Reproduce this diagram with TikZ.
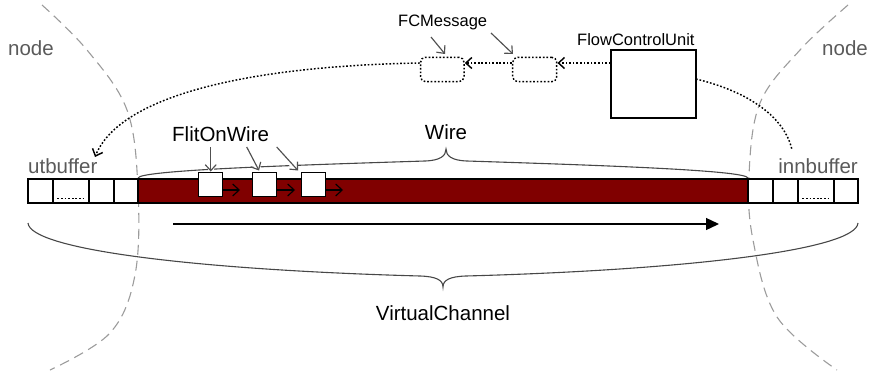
\documentclass[tikz,border=0pt]{standalone}
\usepackage{fontspec}
\setmainfont{Liberation Sans}
\usetikzlibrary{arrows.meta,calc}
\definecolor{wirered}{HTML}{800000}
\definecolor{lbl}{HTML}{5A5A5A}
\definecolor{arcgrey}{HTML}{9C9C9C}
\definecolor{brc}{HTML}{474747}
\definecolor{arrgrey}{HTML}{505050}
\begin{document}
\begin{tikzpicture}[x=1pt,y=-1pt,
  cell/.style={draw=black,fill=white,line width=1.2pt,inner sep=0pt,minimum height=24pt},
  big/.style={font=\fontsize{20.5}{24}\selectfont,inner sep=0pt},
  small/.style={font=\fontsize{16.5}{19}\selectfont,inner sep=0pt},
  grey/.style={text=lbl},
  dotline/.style={line width=1.45pt,dash pattern=on 1.7pt off 1.9pt},
  fcmsg/.style={draw,dotline,rounded corners=5pt,minimum height=24.4pt,inner sep=0pt},
  openhead/.style={-{Straight Barb[length=6pt,width=11pt]}},
  greyarrow/.style={draw=arrgrey,line width=1.15pt,openhead,preaction={draw=white,line width=6pt,-}},
  brace/.style={draw=brc,line width=1.1pt},
  arcline/.style={draw=arcgrey,line width=1.1pt,dash pattern=on 10pt off 6pt},
  flitarrow/.style={line width=1.15pt,-{Straight Barb[length=6.5pt,width=12pt]}}]
\useasboundingbox (0,0) rectangle (873,372);

% node boundaries (dashed arcs)
\draw[arcline] plot[smooth,tension=0.6] coordinates {(42,5) (87,50) (127,110) (138,190) (135,275) (110,333) (50,370)};
\draw[arcline] plot[smooth,tension=0.6] coordinates {(848,5) (800,50) (760,103) (749,175) (753,240) (777,317) (837,370)};

% labels
\node[big,grey,anchor=base west] (nodeL) at (8,55) {node};
\node[big,grey,anchor=base west] (nodeR) at (822,55) {node};
\node[small,anchor=base west] (fcmtxt) at (398,27) {FCMessage};
\node[small,anchor=base west] (fcutxt) at (577,45) {FlowControlUnit};
\node[big,anchor=base] (wiretxt) at (446,139) {Wire};
\node[big,anchor=base west] (flittxt) at (172,141.5) {FlitOnWire};
\node[big,grey,anchor=base west] (utb) at (28,173) {utbuffer};
\node[big,grey,anchor=base east] (inb) at (858,173) {innbuffer};
\node[big,anchor=base] (vc) at (443,320) {VirtualChannel};

% braces
\draw[brace] (138,178) .. controls (140,170) and (300,165) .. (425,161)
  .. controls (440,160.5) and (446,156) .. (446,149)
  .. controls (446,156) and (452,160.5) .. (467,161)
  .. controls (590,165) and (746,170) .. (748,178);
\draw[brace] (28,223) .. controls (30,250) and (200,270) .. (420,276)
  .. controls (436,276.5) and (443,280) .. (443,287)
  .. controls (443,280) and (450,276.5) .. (466,276)
  .. controls (686,270) and (856,250) .. (858,223);

% FlitOnWire pointers
\coordinate (p1s) at (210.7,147);
\coordinate (p1e) at (210.7,171.5);
\coordinate (p2s) at (246.7,147);
\coordinate (p2e) at (259,170.5);
\coordinate (p3s) at (276.7,147);
\coordinate (p3e) at (298,170.5);
\draw[greyarrow] (p1s) -- (p1e);
\draw[greyarrow] (p2s) -- (p2e);
\draw[greyarrow] (p3s) -- (p3e);

% FCMessage pointers
\coordinate (m1s) at (431,37);
\coordinate (m1e) at (445,54);
\coordinate (m2s) at (491,33);
\coordinate (m2e) at (513,54);
\draw[greyarrow] (m1s) -- (m1e);
\draw[greyarrow] (m2s) -- (m2e);

% wire and buffers
\node[draw=black,fill=wirered,line width=1.2pt,inner sep=0pt,minimum width=610pt,minimum height=24pt] (wire) at (443,191) {};
\node[cell,minimum width=25pt] (l1) at (40.5,191) {};
\node[cell,minimum width=36pt] (l2) at (71,191) {};
\node[cell,minimum width=25pt] (l3) at (101.5,191) {};
\node[cell,minimum width=24pt] (l4) at (126,191) {};
\node[cell,minimum width=25pt] (r1) at (760.5,191) {};
\node[cell,minimum width=25pt] (r2) at (785.5,191) {};
\node[cell,minimum width=36pt] (r3) at (816,191) {};
\node[cell,minimum width=24pt] (r4) at (846,191) {};
\draw[dotline,line width=1.1pt] ($(l2.south west)+(5,-5.5)$) -- ($(l2.south east)+(-4,-5.5)$);
\draw[dotline,line width=1.1pt] ($(r3.south west)+(5,-5.5)$) -- ($(r3.south east)+(-4,-5.5)$);

% flits
\node[cell,minimum width=24pt] (f1) at (210.3,184.7) {};
\node[cell,minimum width=24pt] (f2) at (264.7,184.7) {};
\node[cell,minimum width=24pt] (f3) at (313.2,184.7) {};
\coordinate (f1t) at (240,190);
\coordinate (f2t) at (295,190);
\coordinate (f3t) at (343,190);
\draw[flitarrow] (f1.east |- f1t) -- (f1t);
\draw[flitarrow] (f2.east |- f2t) -- (f2t);
\draw[flitarrow] (f3.east |- f3t) -- (f3t);

% direction arrow
\coordinate (dirs) at (173,224);
\coordinate (dire) at (719,224);
\draw[line width=1.3pt,-{Triangle[length=13pt,width=12pt]}] (dirs) -- (dire);

% flow control
\node[draw,line width=1.2pt,minimum width=85pt,minimum height=68pt,inner sep=0pt] (fcu) at (653.5,84) {};
\node[fcmsg,minimum width=43.5pt] (fc1) at (442.3,69.5) {};
\node[fcmsg,minimum width=44pt] (fc2) at (534.7,69.5) {};
\draw[dotline,openhead] ($(fcu.west)+(0,-21)$) -- ($(fc2.east)+(0,-6.5)$);
\draw[dotline,openhead] ($(fc2.west)+(0,-6.5)$) -- ($(fc1.east)+(0,-6.5)$);
\coordinate (utbin) at (95,157);
\draw[dotline,openhead] ($(fc1.west)+(0,-6.5)$) .. controls (250,66) and (120,95) .. (utbin);
\coordinate (fcuout) at (696,79);
\coordinate (inbend) at (792,150);
\draw[dotline] (fcuout) .. controls (750,92) and (785,118) .. (inbend);
\end{tikzpicture}
\end{document}
